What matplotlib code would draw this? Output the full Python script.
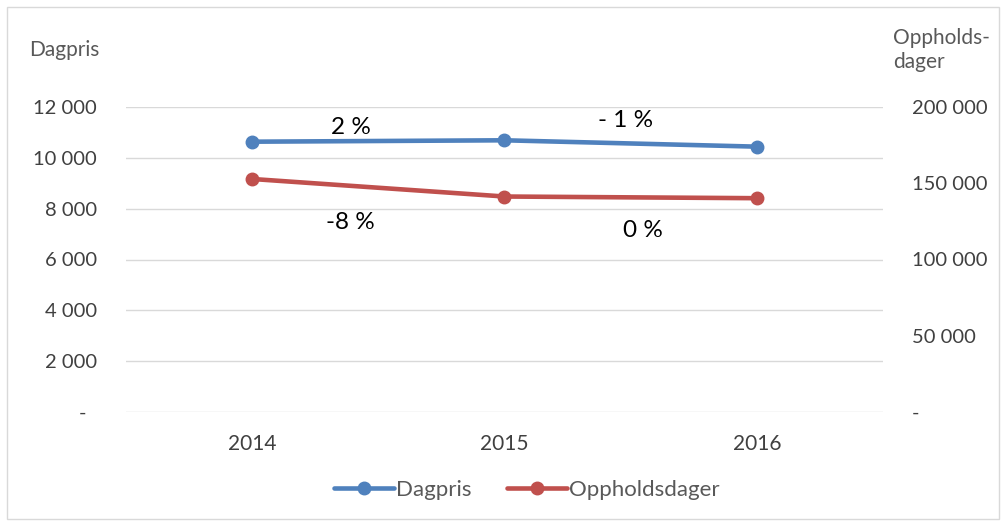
import matplotlib.pyplot as plt
from matplotlib.patches import Rectangle
from matplotlib.ticker import FuncFormatter

plt.rcParams['font.family'] = ['Lato', 'DejaVu Sans']

years = ["2014", "2015", "2016"]
dagpris = [10635, 10690, 10440]
oppholdsdager = [152800, 141300, 140200]
left_ticks = [0, 2000, 4000, 6000, 8000, 10000, 12000]
right_ticks = [0, 50000, 100000, 150000, 200000]
change_labels = ["2 %", "- 1 %", "-8 %", "0 %"]

BLUE = "#4f81bd"
RED = "#c0504d"
GRAY = "#595959"
GRID = "#d9d9d9"


def fmt_left(v, pos):
    if v == 0:
        return "-  "
    return f"{int(v):,}".replace(",", " ")


def fmt_right(v, pos):
    if v == 0:
        return "-"
    return f"{int(v):,}".replace(",", " ")


fig = plt.figure(figsize=(10.02, 5.22), dpi=100)
fig.patch.set_facecolor("white")
fig.patches.append(Rectangle((7 / 1002, 3 / 522), 992 / 1002, 512 / 522, transform=fig.transFigure,
                             fill=False, edgecolor=GRID, linewidth=1))

ax = fig.add_axes([126 / 1002, 110 / 522, 757 / 1002, 305 / 522])
ax2 = ax.twinx()

x = range(len(years))
ax.plot(x, dagpris, color=BLUE, linewidth=3.3, marker="o", markersize=9, label="Dagpris",
        solid_capstyle="round", zorder=3)
ax2.plot(x, oppholdsdager, color=RED, linewidth=3.3, marker="o", markersize=9, label="Oppholdsdager",
         solid_capstyle="round", zorder=3)

ax.set_xlim(-0.5, 2.5)
ax.set_ylim(0, 12000)
ax2.set_ylim(0, 200000)
ax.set_xticks(list(x))
ax.set_xticklabels(years)
ax.set_yticks(left_ticks)
ax2.set_yticks(right_ticks)
ax.yaxis.set_major_formatter(FuncFormatter(fmt_left))
ax2.yaxis.set_major_formatter(FuncFormatter(fmt_right))

ax.grid(axis="y", color=GRID, linewidth=1)
ax.set_axisbelow(True)
for a in (ax, ax2):
    for s in a.spines.values():
        s.set_visible(False)
    a.tick_params(length=0, labelsize=14.5, labelcolor="#404040")
ax.tick_params(axis="y", pad=21)
ax2.tick_params(axis="y", pad=21)
ax.tick_params(axis="x", pad=16, labelsize=15)

# axis titles
fig.text(29 / 1002, 1 - 50 / 522, "Dagpris", fontsize=15, color=GRAY, ha="left", va="center")
fig.text(893 / 1002, 1 - 50 / 522, "Oppholds-\ndager", fontsize=15, color=GRAY, ha="left", va="center",
         linespacing=1.25)

# change annotations
ax.text(0.39, 11200, change_labels[0], fontsize=17.5, ha="center", va="center", color="black")
ax.text(1.48, 11450, change_labels[1], fontsize=17.5, ha="center", va="center", color="black")
ax.text(0.39, 7450, change_labels[2], fontsize=17.5, ha="center", va="center", color="black")
ax.text(1.55, 7130, change_labels[3], fontsize=17.5, ha="center", va="center", color="black")

h1, l1 = ax.get_legend_handles_labels()
h2, l2 = ax2.get_legend_handles_labels()
leg = fig.legend(h1 + h2, l1 + l2, loc="center", bbox_to_anchor=(527 / 1002, 1 - 490 / 522), ncol=2,
                 frameon=False, fontsize=16, handlelength=2.7, handletextpad=0.1, columnspacing=1.6)
for t in leg.get_texts():
    t.set_color(GRAY)

fig.savefig("out.png", dpi=100, facecolor="white")
